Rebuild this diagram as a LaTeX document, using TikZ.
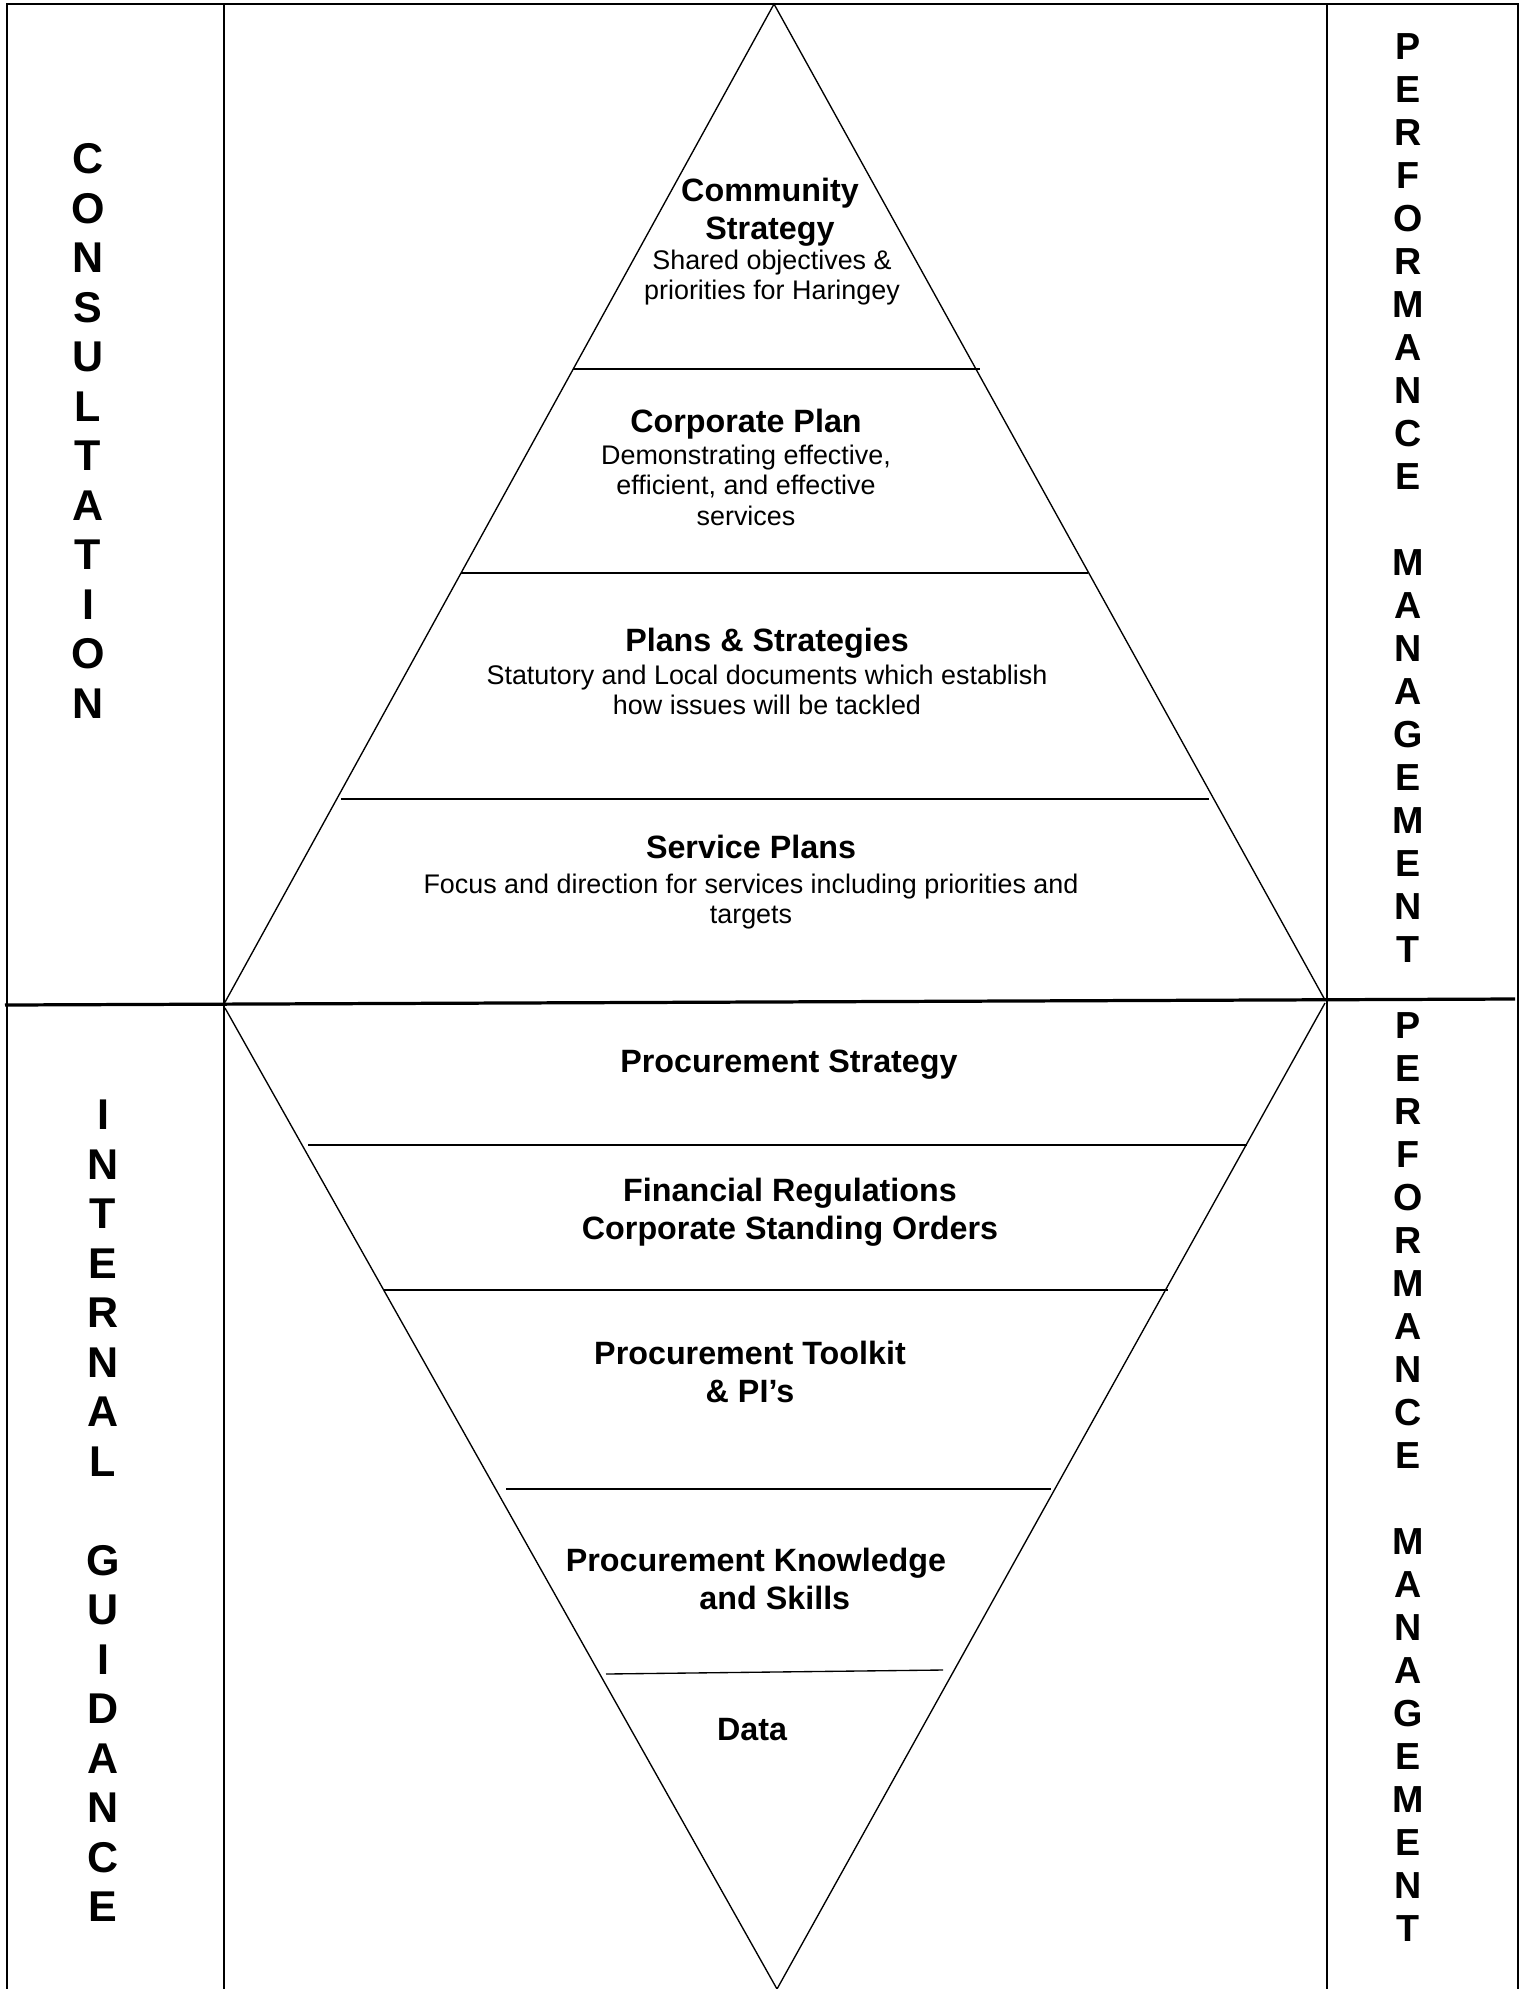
\documentclass[tikz,border=0pt]{standalone}
\usepackage{fontspec}
\setmainfont{Liberation Sans}
\begin{document}
\begin{tikzpicture}[x=0.3717pt,y=-0.3717pt,
  frame/.style={line width=0.75pt},
  tri/.style={line width=0.5pt},
  head/.style={font=\fontsize{12}{13.8}\selectfont\bfseries,align=center,anchor=north,inner sep=0pt},
  desc/.style={font=\fontsize{10}{11.5}\selectfont,align=center,anchor=north,inner sep=0pt},
  sidebig/.style={font=\fontsize{16}{18.4}\selectfont\bfseries,align=center,inner sep=0pt},
  sidesmall/.style={font=\fontsize{14}{16}\selectfont\bfseries,align=center,inner sep=0pt}]
\useasboundingbox (0,0) rectangle (1527,1989);
\pgfmathsetmacro{\colL}{224}
\pgfmathsetmacro{\colR}{1327}
% frame and columns
\draw[frame] (7,1989) -- (7,4) -- (1518,4) -- (1518,1989);
\draw[frame] (\colL,4) -- (\colL,1989);
\draw[frame] (\colR,4) -- (\colR,1989);
\draw[line width=1.2pt] (5,1005) -- (1515,999);
% upper pyramid
\coordinate (topApex) at (774,4);
\coordinate (topL) at (224,1004);
\coordinate (topR) at (1325,1000);
\draw[tri] (topL) -- (topApex) -- (topR);
\draw[tri] (573,369) -- (980,369);
\draw[tri] (461,573) -- (1088,573);
\draw[tri] (341,799) -- (1209,799);
% lower pyramid
\coordinate (lowApex) at (777,1989);
\coordinate (lowL) at (225,1008);
\coordinate (lowR) at (1325,1003);
\draw[tri] (lowL) -- (lowApex) -- (lowR);
\draw[tri] (308,1145) -- (1247,1145);
\draw[tri] (384,1290) -- (1168,1290);
\draw[tri] (506,1489) -- (1051,1489);
\draw[tri] (606,1674) -- (943,1670);
% upper texts
\node[head] (community) at (770,178) {Community\\Strategy};
\node[desc] (communityTxt) at (772,249) {Shared objectives \&\\priorities for Haringey};
\node[head] (corporate) at (746,409) {Corporate Plan};
\node[desc] (corporateTxt) at (746,444) {Demonstrating effective,\\efficient, and effective\\services};
\node[head] (plans) at (767,628) {Plans \& Strategies};
\node[desc] (plansTxt) at (767,664) {Statutory and Local documents which establish\\how issues will be tackled};
\node[head] (service) at (751,835) {Service Plans};
\node[desc] (serviceTxt) at (751,873) {Focus and direction for services including priorities and\\targets};
% lower texts
\node[head] (procStrategy) at (789,1049) {Procurement Strategy};
\node[head] (financial) at (790,1178) {Financial Regulations\\Corporate Standing Orders};
\node[head] (toolkit) at (750,1341) {Procurement Toolkit\\\& PI’s};
\node[head] (knowledge) at (756,1548) {Procurement Knowledge\\\hspace*{14pt}and Skills};
\node[head] (data) at (752,1718) {Data};
% side columns
\node[sidebig] (consult) at (88,431) {C\\O\\N\\S\\U\\L\\T\\A\\T\\I\\O\\N};
\node[sidebig] (internal) at (103,1511) {I\\N\\T\\E\\R\\N\\A\\L\\[18.4pt]G\\U\\I\\D\\A\\N\\C\\E};
\node[sidesmall] (perfTop) at (1408,498) {P\\E\\R\\F\\O\\R\\M\\A\\N\\C\\E\\[16pt]M\\A\\N\\A\\G\\E\\M\\E\\N\\T};
\node[sidesmall] (perfLow) at (1408,1477) {P\\E\\R\\F\\O\\R\\M\\A\\N\\C\\E\\[16pt]M\\A\\N\\A\\G\\E\\M\\E\\N\\T};
\end{tikzpicture}
\end{document}
